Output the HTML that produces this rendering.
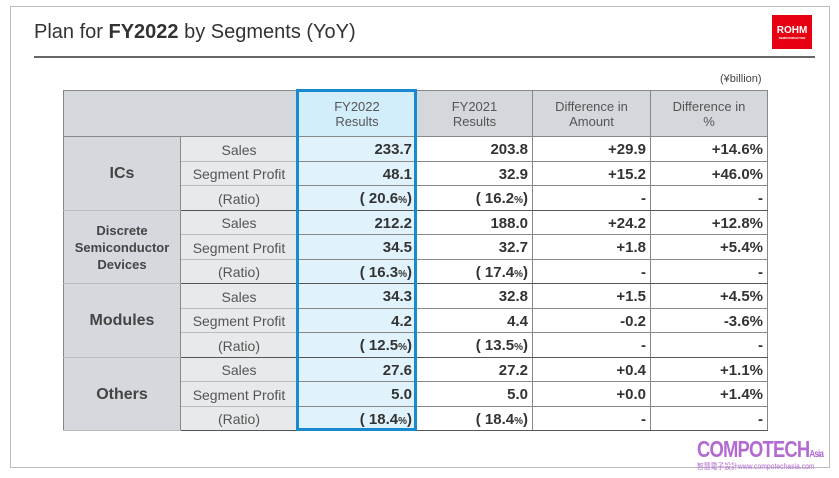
<!DOCTYPE html>
<html><head><meta charset="utf-8"><style>
*{margin:0;padding:0;box-sizing:border-box}
body{width:839px;height:478px;background:#fff;position:relative;overflow:hidden;font-family:"Liberation Sans",sans-serif;color:#333}
.frame{position:absolute;left:10px;top:6px;width:820px;height:462px;border:1px solid #bbb}
.title{position:absolute;left:34px;top:21px;font-size:20px;color:#333}
.rule{position:absolute;left:34px;top:56px;width:781px;height:2px;background:#666}
.logo{position:absolute;left:772px;top:15px;width:40px;height:34px;background:#e60012;color:#fff;font:bold 10px "Liberation Sans",sans-serif;text-align:center;padding-top:10px}
.logo small{display:block;font-size:3px}
.unit{position:absolute;left:720px;top:73px;font-size:11px;color:#444}
table{position:absolute;left:63px;top:90px;border-collapse:collapse;table-layout:fixed}
td{border:1px solid #888;font-size:15px;height:24.5px;padding:2px 4px 0;text-align:right;color:#333}
tr.sub td{border-bottom:1px dotted #bbb}
tr.sub td.seg,tr.sub td.item{border-bottom:1px solid #bbb}
tr.end td{border-bottom:1.5px solid #555}
.h td{height:46px;background:#d4d8dc;text-align:center;font-size:13px;color:#555;line-height:15px;padding:0}
.seg{background:#d5d9de;text-align:center;font-weight:bold;font-size:16px;color:#444}
.seg.small{font-size:13px;line-height:17px}
.item{background:#e7e9eb;text-align:center;font-size:14px;color:#555}
.hl{background:#e0f3fc}
.b{font-weight:bold}
.p{font-size:10px}
.box{position:absolute;left:296px;top:89px;width:121px;height:342px;border:3px solid #1a8ad0}
.ct{position:absolute;left:697px;top:436px;font:bold 23px "Liberation Sans",sans-serif;color:#b36bd1;letter-spacing:-1px;transform:scaleX(0.8);transform-origin:left top;white-space:nowrap}
.ct small{font-size:10px}
.ct2{position:absolute;left:697px;top:461px;font-size:8px;color:#b36bd1;font-family:"Liberation Sans","Noto Sans CJK TC",sans-serif;transform:scaleX(0.85);transform-origin:left top;white-space:nowrap}
</style></head><body>
<div class="frame"></div>
<div class="title">Plan for <b>FY2022</b> by Segments (YoY)</div>
<div class="rule"></div>
<div class="logo">ROHM<small>SEMICONDUCTOR</small></div>
<div class="unit">(¥billion)</div>
<table>
<colgroup><col style="width:117px"><col style="width:117px"><col style="width:119px"><col style="width:116px"><col style="width:118px"><col style="width:117px"></colgroup>
<tr class="h"><td colspan="2"></td><td class="hl" style="background:#d3eefb">FY2022<br>Results</td><td>FY2021<br>Results</td><td>Difference in<br>Amount</td><td>Difference in<br>%</td></tr>

<tr class="sub"><td class="seg" rowspan="3">ICs</td><td class="item">Sales</td><td class="hl b">233.7</td><td class="b">203.8</td><td class="b">+29.9</td><td class="b">+14.6%</td></tr>
<tr class="sub"><td class="item">Segment Profit</td><td class="hl b">48.1</td><td class="b">32.9</td><td class="b">+15.2</td><td class="b">+46.0%</td></tr>
<tr class="end"><td class="item">(Ratio)</td><td class="hl b">( 20.6<span class="p">%</span>)</td><td class="b">( 16.2<span class="p">%</span>)</td><td class="b">-</td><td class="b">-</td></tr>

<tr class="sub"><td class="seg small" rowspan="3">Discrete<br>Semiconductor<br>Devices</td><td class="item">Sales</td><td class="hl b">212.2</td><td class="b">188.0</td><td class="b">+24.2</td><td class="b">+12.8%</td></tr>
<tr class="sub"><td class="item">Segment Profit</td><td class="hl b">34.5</td><td class="b">32.7</td><td class="b">+1.8</td><td class="b">+5.4%</td></tr>
<tr class="end"><td class="item">(Ratio)</td><td class="hl b">( 16.3<span class="p">%</span>)</td><td class="b">( 17.4<span class="p">%</span>)</td><td class="b">-</td><td class="b">-</td></tr>

<tr class="sub"><td class="seg" rowspan="3">Modules</td><td class="item">Sales</td><td class="hl b">34.3</td><td class="b">32.8</td><td class="b">+1.5</td><td class="b">+4.5%</td></tr>
<tr class="sub"><td class="item">Segment Profit</td><td class="hl b">4.2</td><td class="b">4.4</td><td class="b">-0.2</td><td class="b">-3.6%</td></tr>
<tr class="end"><td class="item">(Ratio)</td><td class="hl b">( 12.5<span class="p">%</span>)</td><td class="b">( 13.5<span class="p">%</span>)</td><td class="b">-</td><td class="b">-</td></tr>

<tr class="sub"><td class="seg" rowspan="3">Others</td><td class="item">Sales</td><td class="hl b">27.6</td><td class="b">27.2</td><td class="b">+0.4</td><td class="b">+1.1%</td></tr>
<tr class="sub"><td class="item">Segment Profit</td><td class="hl b">5.0</td><td class="b">5.0</td><td class="b">+0.0</td><td class="b">+1.4%</td></tr>
<tr class="end"><td class="item">(Ratio)</td><td class="hl b">( 18.4<span class="p">%</span>)</td><td class="b">( 18.4<span class="p">%</span>)</td><td class="b">-</td><td class="b">-</td></tr>
</table>
<div class="box"></div>
<div class="ct">COMPOTECH<small>Asia</small></div>
<div class="ct2">智慧電子設計www.compotechasia.com</div>
</body></html>
